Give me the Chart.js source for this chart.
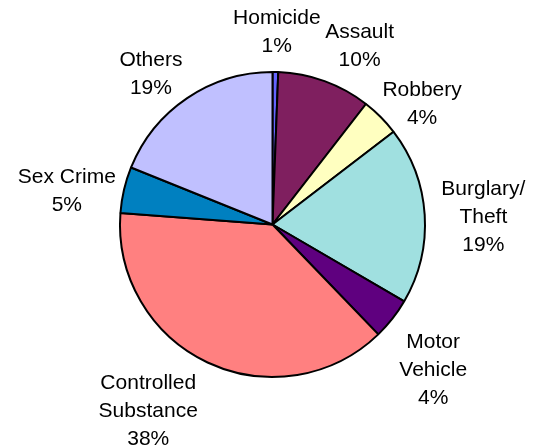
<!DOCTYPE html>
<html>
<head>
<meta charset="utf-8">
<script src="https://cdn.jsdelivr.net/npm/chart.js@4/dist/chart.umd.min.js"></script>
<style>
  html, body { margin: 0; padding: 0; background: #fff; }
  #wrap { width: 540px; height: 448px; }
</style>
</head>
<body>
<div id="wrap"><canvas id="crimePie" width="540" height="448"></canvas></div>
<script>
// Share of offences by category, clockwise from 12 o'clock.
// Values (percent of total).
const categories = [
    ['Homicide'],
    ['Assault'],
    ['Robbery'],
    ['Burglary/', 'Theft'],
    ['Motor', 'Vehicle'],
    ['Controlled', 'Substance'],
    ['Sex Crime'],
    ['Others']
];
const shares = [0.6, 9.9, 4.1, 18.8, 4.4, 38.4, 4.9, 18.9];
const sliceColors = [
    '#6464ff', '#7f1f5f', '#ffffc0', '#a0e0e0',
    '#5f007f', '#ff8080', '#0080c0', '#c0c0ff'
];

// Label layout tweaks (Excel "best fit" style): angular shift in degrees
// and extra gap in px between the pie edge and the label box.
const labelShiftDeg = [0.2, 6, 6, 1.6, 4, 8.5, -4, -5];
const labelGap      = [11, 6, -9, 15, 11, 9, 3, -1];

const FONT_PX = 21;
const LINE_H = 28;

const outsideLabels = {
    id: 'outsideLabels',
    afterDraw(chart) {
        const ctx = chart.ctx;
        const meta = chart.getDatasetMeta(0);
        const total = shares.reduce((a, b) => a + b, 0);
        ctx.save();
        ctx.font = FONT_PX + 'px "Liberation Sans", Arial, sans-serif';
        ctx.fillStyle = '#000';
        ctx.textAlign = 'center';
        ctx.textBaseline = 'middle';
        meta.data.forEach((arc, i) => {
            const lines = categories[i].concat([Math.round(shares[i] / total * 100) + '%']);
            const w = Math.max(...lines.map(t => ctx.measureText(t).width));
            const h = lines.length * LINE_H;
            const mid = (arc.startAngle + arc.endAngle) / 2 + labelShiftDeg[i] * Math.PI / 180;
            const dx = Math.cos(mid), dy = Math.sin(mid);
            // distance so the label box sits just outside the rim
            const support = Math.abs(dx) * w / 2 + Math.abs(dy) * h / 2;
            const d = arc.outerRadius + labelGap[i] + support;
            const cx = arc.x + dx * d;
            const cy = arc.y + dy * d;
            lines.forEach((t, k) => {
                ctx.fillText(t, cx, cy - h / 2 + LINE_H * (k + 0.5));
            });
        });
        ctx.restore();
    }
};

new Chart(document.getElementById('crimePie'), {
    type: 'pie',
    data: {
        labels: categories.map(c => c.join(' ')),
        datasets: [{
            data: shares,
            backgroundColor: sliceColors,
            borderColor: '#000',
            borderWidth: 2
        }]
    },
    options: {
        responsive: false,
        devicePixelRatio: 1,
        animation: false,
        layout: { padding: { top: 71, bottom: 70, left: 119, right: 114 } },
        plugins: {
            legend: { display: false },
            tooltip: { enabled: false }
        }
    },
    plugins: [outsideLabels]
});
</script>
</body>
</html>
